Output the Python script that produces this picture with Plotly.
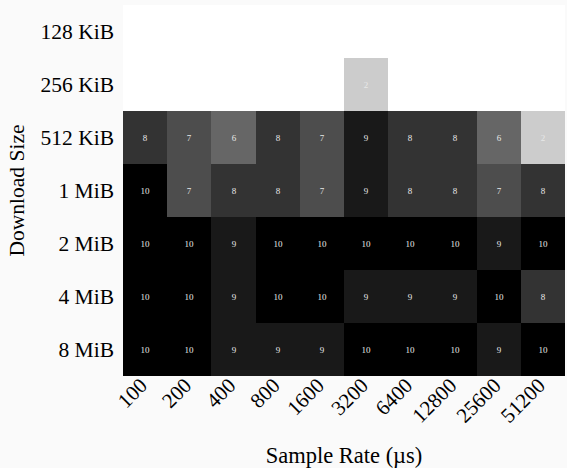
import plotly.graph_objects as go

sample_rates = ["100", "200", "400", "800", "1600", "3200", "6400", "12800", "25600", "51200"]
download_sizes = ["128 KiB", "256 KiB", "512 KiB", "1 MiB", "2 MiB", "4 MiB", "8 MiB"]

row_128k = [0, 0, 0, 0, 0, 0, 0, 0, 0, 0]
row_256k = [0, 0, 0, 0, 0, 2, 0, 0, 0, 0]
row_512k = [8, 7, 6, 8, 7, 9, 8, 8, 6, 2]
row_1m = [10, 7, 8, 8, 7, 9, 8, 8, 7, 8]
row_2m = [10, 10, 9, 10, 10, 10, 10, 10, 9, 10]
row_4m = [10, 10, 9, 10, 10, 9, 9, 9, 10, 8]
row_8m = [10, 10, 9, 9, 9, 10, 10, 10, 9, 10]

z = [row_128k, row_256k, row_512k, row_1m, row_2m, row_4m, row_8m]
text = [[("" if v == 0 else str(v)) for v in row] for row in z]

serif = "Liberation Serif, Times New Roman, serif"

fig = go.Figure(
    go.Heatmap(
        z=z,
        x=sample_rates,
        y=download_sizes,
        text=text,
        texttemplate="%{text}",
        textfont=dict(family=serif, size=9, color="#e8e8e8"),
        colorscale=[[0, "#ffffff"], [1, "#000000"]],
        zmin=0,
        zmax=10,
        showscale=False,
        hoverinfo="skip",
    )
)

fig.update_layout(
    width=567,
    height=468,
    margin=dict(l=123, r=2, t=5, b=92),
    paper_bgcolor="#fafafa",
    plot_bgcolor="#ffffff",
    font=dict(family=serif, color="#000000"),
    xaxis=dict(
        type="category",
        tickangle=-45,
        tickfont=dict(size=21),
        title=dict(text="Sample Rate (µs)", font=dict(size=22.5), standoff=22),
        showgrid=False,
        zeroline=False,
        ticks="",
        ticklabelstandoff=-8,
        ticklabelshift=-4,
    ),
    yaxis=dict(
        type="category",
        autorange="reversed",
        tickfont=dict(size=21.5),
        title=dict(text="Download Size", font=dict(size=21.5), standoff=10),
        showgrid=False,
        zeroline=False,
        ticks="",
        ticklabelstandoff=8,
    ),
)

fig.write_html("out.html")
